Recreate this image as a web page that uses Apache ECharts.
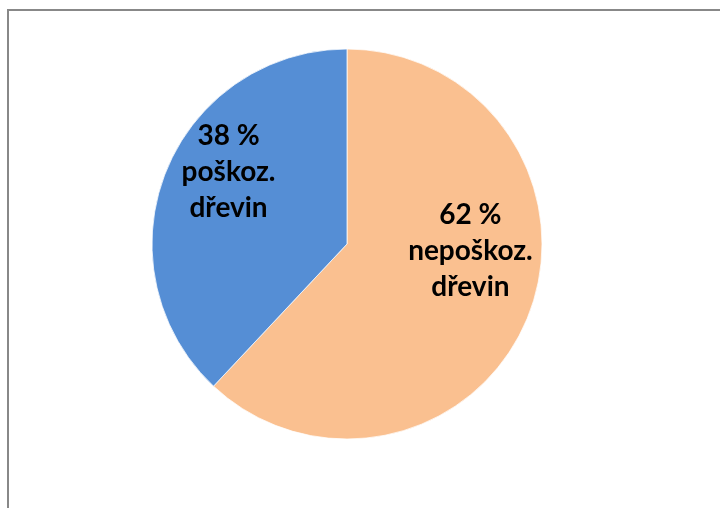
<!DOCTYPE html>
<html>
<head>
<meta charset="utf-8">
<script src="https://cdn.jsdelivr.net/npm/echarts@6/dist/echarts.min.js"></script>
<style>
html,body{margin:0;padding:0;background:#fff;}
#chart{width:720px;height:508px;}
</style>
</head>
<body>
<div id="chart"></div>
<script>
var categories = ['nepoškoz.\ndřevin', 'poškoz.\ndřevin'];
var values = [62, 38];
var colors = ['#FAC090', '#558ED5'];
var labelOffsets = [[30, -30], [-25, -35]];

var chart = echarts.init(document.getElementById('chart'), null, {renderer: 'canvas'});
var data = categories.map(function (c, i) {
  return {
    name: c,
    value: values[i],
    itemStyle: {color: colors[i]},
    label: {offset: labelOffsets[i]}
  };
});
chart.setOption({
  animation: false,
  backgroundColor: '#fff',
  graphic: [{
    type: 'rect',
    shape: {x: 8, y: 10, width: 800, height: 600},
    style: {fill: 'none', stroke: '#888888', lineWidth: 2},
    silent: true
  }],
  series: [{
    type: 'pie',
    center: [347, 244],
    radius: 195,
    startAngle: 90,
    clockwise: true,
    avoidLabelOverlap: false,
    itemStyle: {borderColor: '#ffffff', borderWidth: 0.75},
    label: {
      show: true,
      position: 'inside',
      formatter: function (p) { return p.value + ' %\n' + p.name; },
      fontFamily: 'Lato',
      fontWeight: 'bold',
      fontSize: 28,
      lineHeight: 36,
      color: '#000',
      align: 'center'
    },
    labelLine: {show: false},
    emphasis: {disabled: true},
    data: data
  }]
});
</script>
</body>
</html>
